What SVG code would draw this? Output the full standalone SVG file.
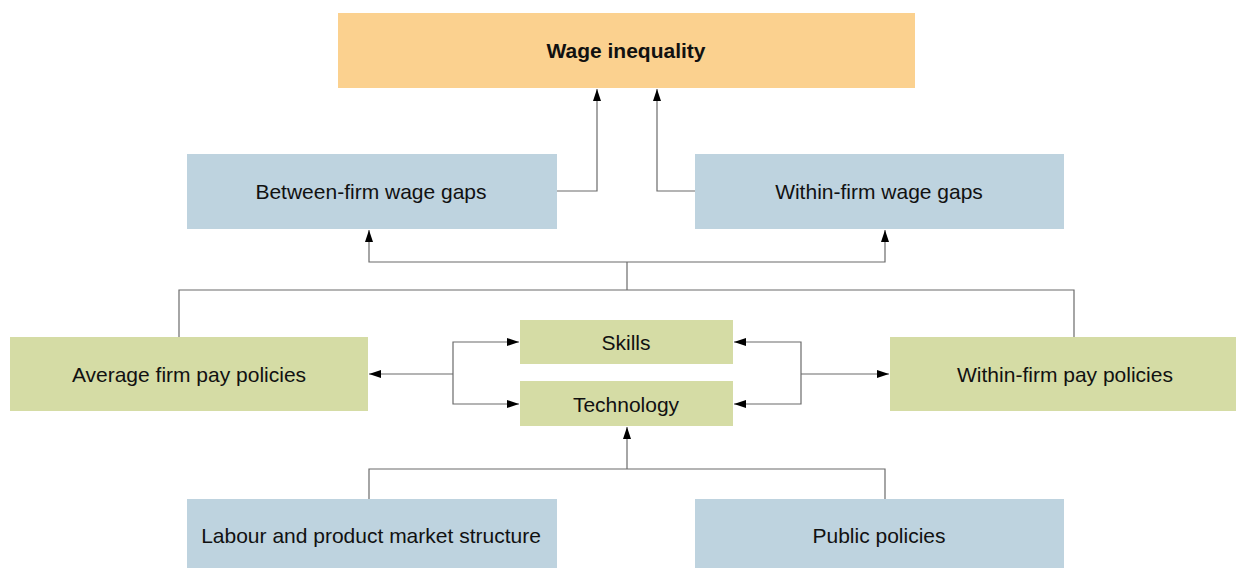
<svg xmlns="http://www.w3.org/2000/svg" width="1236" height="568" viewBox="0 0 1236 568">
  <style>
    .orange { fill: #fbd18f; }
    .blue { fill: #bed3df; }
    .green { fill: #d5dca5; }
    .label { font-family: "Liberation Sans", Arial, sans-serif; font-size: 21px; fill: #111; text-anchor: middle; dominant-baseline: central; }
    .bold { font-weight: bold; }
    .wire { fill: none; stroke: #6b6b6b; stroke-width: 1.2; }
    .arrow { marker-end: url(#head); }
  </style>
  <defs>
    <marker id="head" viewBox="0 0 12 8" refX="12" refY="4" markerWidth="12" markerHeight="8" markerUnits="userSpaceOnUse" orient="auto">
      <path d="M0,0 L12,4 L0,8 Z" fill="#000"/>
    </marker>
  </defs>
  <rect width="1236" height="568" fill="#fff"/>

  <g id="wage-inequality">
    <rect class="orange" x="338" y="13" width="577" height="75"/>
    <text class="label bold" x="626" y="50">Wage inequality</text>
  </g>
  <g id="between-firm-gaps">
    <rect class="blue" x="187" y="154" width="370" height="75"/>
    <text class="label" x="371" y="191">Between-firm wage gaps</text>
  </g>
  <g id="within-firm-gaps">
    <rect class="blue" x="695" y="154" width="369" height="75"/>
    <text class="label" x="879" y="191">Within-firm wage gaps</text>
  </g>
  <g id="average-firm-pay">
    <rect class="green" x="10" y="337" width="358" height="74"/>
    <text class="label" x="189" y="374">Average firm pay policies</text>
  </g>
  <g id="skills">
    <rect class="green" x="520" y="320" width="213" height="44"/>
    <text class="label" x="626" y="342">Skills</text>
  </g>
  <g id="technology">
    <rect class="green" x="520" y="381" width="213" height="45"/>
    <text class="label" x="626" y="404">Technology</text>
  </g>
  <g id="within-firm-pay">
    <rect class="green" x="890" y="337" width="346" height="74"/>
    <text class="label" x="1065" y="374">Within-firm pay policies</text>
  </g>
  <g id="market-structure">
    <rect class="blue" x="187" y="499" width="370" height="69"/>
    <text class="label" x="371" y="535">Labour and product market structure</text>
  </g>
  <g id="public-policies">
    <rect class="blue" x="695" y="499" width="369" height="69"/>
    <text class="label" x="879" y="535">Public policies</text>
  </g>

  <g id="connectors">
    <!-- wage gaps to wage inequality -->
    <path class="wire arrow" d="M557,191 H597 V89"/>
    <path class="wire arrow" d="M695,191 H657 V89"/>
    <!-- pay policies to wage gaps -->
    <path class="wire" d="M179,337 V290 H1074 V337"/>
    <path class="wire" d="M627,290 V262"/>
    <path class="wire arrow" d="M627,262 H369 V230"/>
    <path class="wire arrow" d="M627,262 H885 V230"/>
    <!-- skills / technology to pay policies -->
    <path class="wire arrow" d="M453,374 H369"/>
    <path class="wire arrow" d="M453,374 V342 H519"/>
    <path class="wire arrow" d="M453,374 V404 H519"/>
    <path class="wire arrow" d="M801,374 H889"/>
    <path class="wire arrow" d="M801,374 V342 H734"/>
    <path class="wire arrow" d="M801,374 V404 H734"/>
    <!-- structure and policies to technology -->
    <path class="wire" d="M369,499 V469 H885 V499"/>
    <path class="wire arrow" d="M627,469 V427"/>
  </g>
</svg>
